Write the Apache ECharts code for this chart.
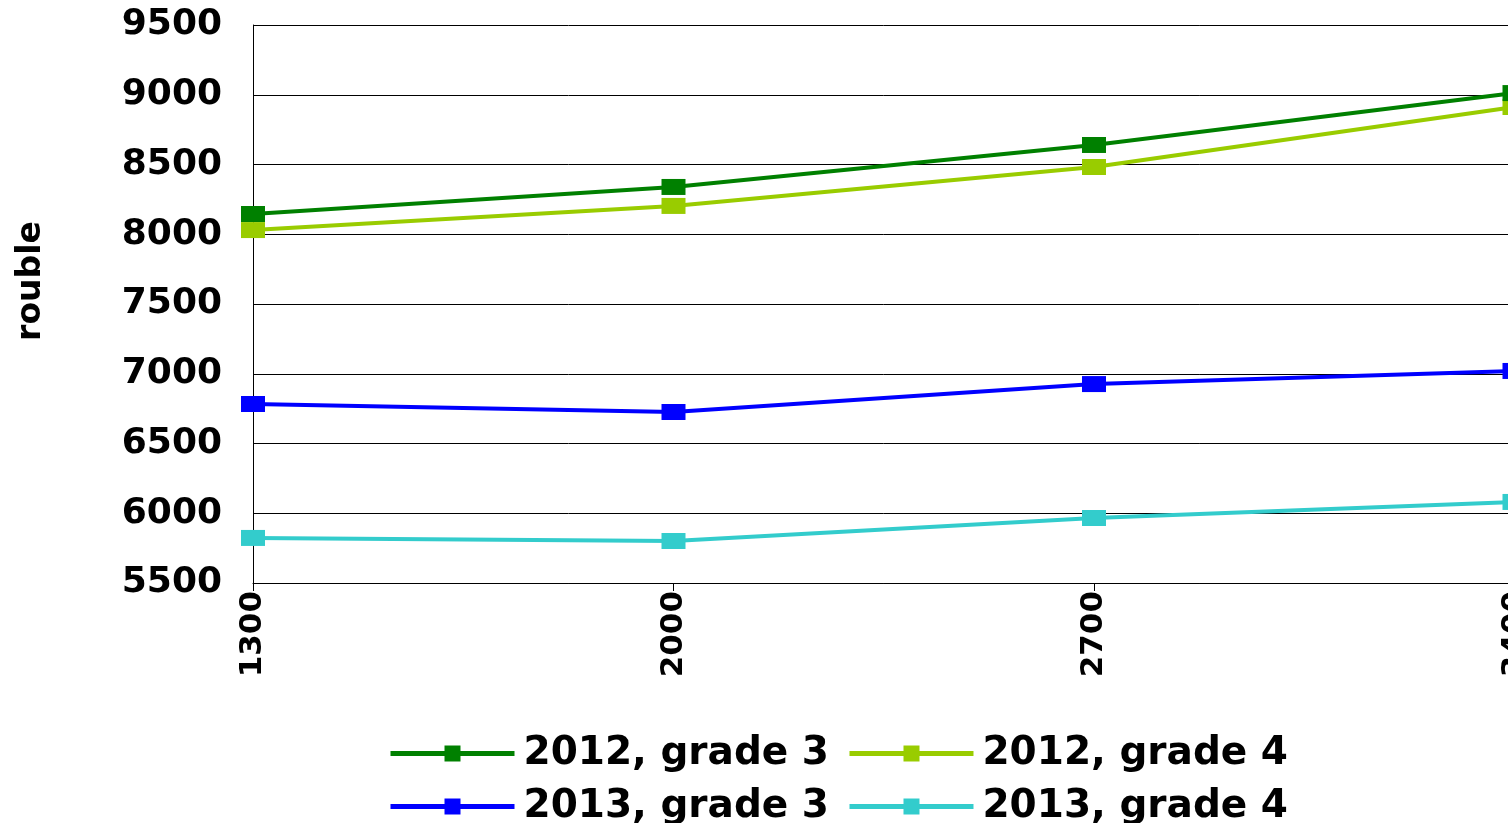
<!DOCTYPE html>
<html><head><meta charset="utf-8">
<script src="https://cdn.jsdelivr.net/npm/echarts@6/dist/echarts.min.js"></script>
<style>html,body{margin:0;padding:0;background:#fff;overflow:hidden}#c{width:1530px;height:823px}</style>
</head><body><div id="c"></div>
<script>
const categories = ["1300", "2000", "2700", "3400"];
const yTicks = [5500, 6000, 6500, 7000, 7500, 8000, 8500, 9000, 9500];
const yTitle = "rouble";
const seriesNames = ["2012, grade 3", "2012, grade 4", "2013, grade 3", "2013, grade 4"];
const s2012g3 = [8145, 8339, 8640, 9012];
const s2012g4 = [8030, 8203, 8482, 8912];
const s2013g3 = [6783, 6726, 6926, 7020];
const s2013g4 = [5823, 5801, 5966, 6081];
const colors = ["#008000", "#99CC00", "#0000FF", "#33CCCC"];
const values = [s2012g3, s2012g4, s2013g3, s2013g4];

const FONT = "DejaVu Sans";
const chart = echarts.init(document.getElementById('c'));
const legendText = {fontFamily: FONT, fontWeight: 'bold', fontSize: 39, color: '#000', padding: [0, 0, 0, 4]};
const legendCommon = {left: 383, itemWidth: 124, itemHeight: 20, itemGap: 18, textStyle: legendText,
  lineStyle: {width: 5}, itemStyle: {borderWidth: 0}};
chart.setOption({
  animation: false,
  grid: {left: 253, width: 1266, top: 25, height: 558, containLabel: false},
  xAxis: {
    type: 'category', data: categories, boundaryGap: false,
    axisLine: {lineStyle: {color: '#000', width: 1}},
    axisTick: {show: true, alignWithLabel: true, length: 8, lineStyle: {color: '#000'}},
    axisLabel: {rotate: 90, margin: 8, fontFamily: FONT, fontWeight: 'bold', fontSize: 31, color: '#000', interval: 0},
    splitLine: {show: false}
  },
  yAxis: {
    type: 'value', min: yTicks[0], max: yTicks[yTicks.length - 1], interval: 500,
    axisLine: {show: true, lineStyle: {color: '#000', width: 1}},
    axisTick: {show: false},
    axisLabel: {margin: 31, fontFamily: FONT, fontWeight: 'bold', fontSize: 36, color: '#000',
      formatter: v => String(v)},
    splitLine: {show: true, lineStyle: {color: '#000', width: 1}}
  },
  graphic: [{
    type: 'text', x: 31, y: 281, rotation: Math.PI / 2,
    style: {text: yTitle, align: 'center', verticalAlign: 'middle',
      font: 'bold 33px "DejaVu Sans"', fill: '#000'}
  }],
  legend: [
    Object.assign({data: [seriesNames[0], seriesNames[1]], top: 729}, legendCommon),
    Object.assign({data: [seriesNames[2], seriesNames[3]], top: 782}, legendCommon)
  ],
  series: seriesNames.map((n, i) => ({
    name: n, type: 'line', data: values[i],
    symbol: 'rect', symbolSize: [24, 16],
    lineStyle: {color: colors[i], width: 4},
    itemStyle: {color: colors[i]},
    z: 10 - i
  }))
});
</script></body></html>
